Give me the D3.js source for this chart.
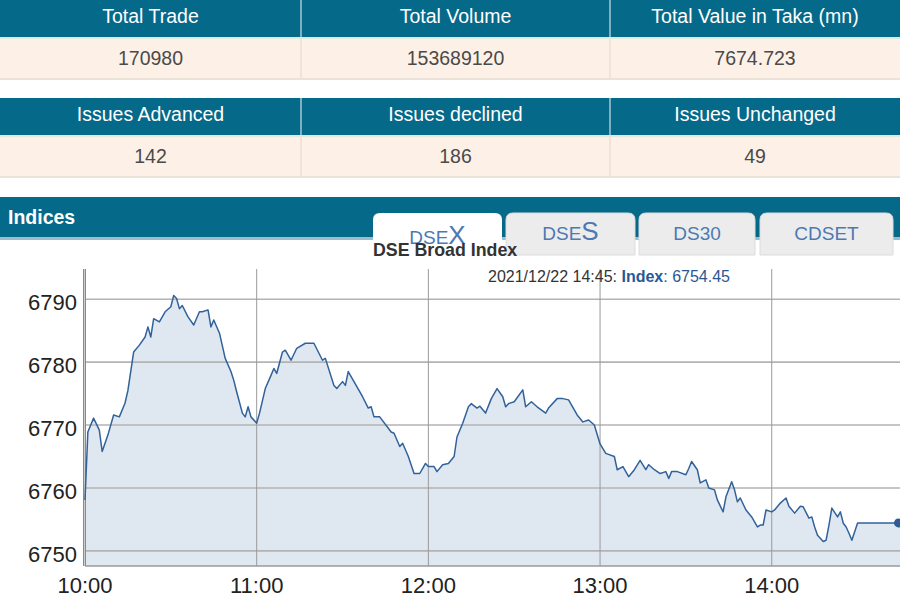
<!DOCTYPE html>
<html>
<head>
<meta charset="utf-8">
<script src="https://cdn.jsdelivr.net/npm/d3@7"></script>
<style>
  body { margin: 0; background: #fff; }
  svg { display: block; font-family: "Liberation Sans", Arial, sans-serif; }
</style>
</head>
<body>
<svg id="chart" width="900" height="600"></svg>
<script>
// summary tables
const marketHeads = ["Total Trade", "Total Volume", "Total Value in Taka (mn)"];
const marketVals = ["170980", "153689120", "7674.723"];
const issueHeads = ["Issues Advanced", "Issues declined", "Issues Unchanged"];
const issueVals = ["142", "186", "49"];

// index tabs: small part + big part
const tabNames = [["DSE", "X"], ["DSE", "S"], ["DS30", ""], ["CDSET", ""]];

// DSEX intraday
const times = [
  "10:00","10:01","10:03","10:05","10:06","10:08","10:10","10:12","10:14","10:15",
  "10:17","10:19","10:21","10:22","10:23","10:24","10:26","10:28","10:30","10:31",
  "10:32","10:33","10:34","10:36","10:38","10:40","10:41","10:43","10:44","10:45",
  "10:47","10:49","10:51","10:52","10:53","10:55","10:56","10:57","10:58","11:00",
  "11:01","11:03","11:05","11:06","11:07","11:09","11:10","11:12","11:14","11:17",
  "11:20","11:23","11:24","11:27","11:28","11:30","11:31","11:32","11:34","11:37",
  "11:39","11:40","11:41","11:43","11:47","11:48","11:50","11:51","11:53","11:55",
  "11:57","11:59","12:00","12:02","12:03","12:05","12:07","12:09","12:10","12:12",
  "12:14","12:15","12:17","12:18","12:20","12:22","12:24","12:26","12:27","12:28",
  "12:30","12:33","12:34","12:36","12:38","12:41","12:42","12:45","12:47","12:49",
  "12:50","12:52","12:54","12:56","12:58","13:00","13:02","13:05","13:06","13:08",
  "13:10","13:12","13:14","13:16","13:17","13:19","13:21","13:23","13:24","13:25",
  "13:27","13:30","13:31","13:32","13:34","13:35","13:37","13:38","13:40","13:41",
  "13:43","13:44","13:46","13:47","13:48","13:49","13:51","13:53","13:55","13:56",
  "13:57","13:58","14:00","14:01","14:03","14:05","14:06","14:08","14:10","14:11",
  "14:13","14:14","14:15","14:16","14:18","14:19","14:20","14:21","14:23","14:24",
  "14:25","14:26","14:27","14:28","14:30","14:45"
];
const values = [
  6758.1,6768.9,6771.1,6769.2,6765.8,6768.4,6771.6,6771.3,6773.5,6775.5,
  6781.6,6782.7,6784.0,6785.6,6784.0,6786.9,6786.4,6788.0,6788.8,6790.6,
  6790.1,6788.5,6789.0,6787.2,6785.9,6788.0,6788.0,6788.3,6785.6,6786.7,
  6784.6,6780.6,6778.5,6777.1,6775.3,6771.9,6771.3,6772.9,6771.3,6770.3,
  6771.9,6775.8,6777.9,6779.0,6778.2,6781.6,6781.9,6780.3,6782.2,6783.0,
  6783.0,6780.3,6780.6,6776.3,6775.8,6776.9,6776.3,6778.5,6776.9,6774.5,
  6772.7,6772.9,6771.3,6771.3,6768.9,6768.7,6766.6,6767.1,6765.0,6762.3,
  6762.3,6763.9,6763.4,6763.4,6762.6,6763.7,6763.9,6765.0,6768.1,6770.3,
  6772.9,6773.4,6772.7,6773.0,6771.9,6774.2,6775.8,6774.5,6772.9,6773.4,
  6773.7,6775.6,6772.9,6773.7,6772.9,6771.9,6772.7,6774.2,6774.2,6774.0,
  6773.2,6771.6,6770.5,6770.8,6770.0,6767.0,6765.5,6765.0,6762.9,6763.4,
  6761.8,6762.9,6764.4,6762.9,6763.7,6762.9,6762.3,6762.6,6761.5,6762.6,
  6762.6,6762.1,6763.1,6764.2,6762.9,6760.8,6761.3,6760.0,6759.7,6758.1,
  6756.2,6758.6,6761.0,6759.7,6757.8,6758.4,6756.5,6755.4,6753.8,6754.1,
  6754.1,6756.5,6756.2,6756.5,6757.6,6758.4,6757.1,6756.0,6757.1,6757.0,
  6755.2,6755.4,6753.8,6752.5,6751.5,6751.7,6754.1,6756.8,6755.4,6756.2,
  6754.4,6753.8,6752.8,6751.7,6754.45,6754.45
];

const yTicks = [6750, 6760, 6770, 6780, 6790];
const xTicks = ["10:00", "11:00", "12:00", "13:00", "14:00"];

const svg = d3.select("#chart");
const teal = "#05698a";
const peach = "#fdf1e7";
const colEdges = [0, 301, 610, 900];

function drawTable(heads, vals, y0) {
  const g = svg.append("g");
  g.append("rect").attr("x", 0).attr("y", y0).attr("width", 900).attr("height", 37).attr("fill", teal);
  g.append("rect").attr("x", 0).attr("y", y0 + 37).attr("width", 900).attr("height", 2).attr("fill", "#dfe9e2");
  g.append("rect").attr("x", 0).attr("y", y0 + 39).attr("width", 900).attr("height", 39).attr("fill", peach);
  g.append("rect").attr("x", 0).attr("y", y0 + 78).attr("width", 900).attr("height", 2).attr("fill", "#ece3d8");

  g.selectAll(".div").data(colEdges.slice(1, 3)).enter().append("line")
    .attr("x1", d => d).attr("x2", d => d)
    .attr("y1", y0).attr("y2", y0 + 37)
    .attr("stroke", "#cfe0e6").attr("stroke-width", 1.2);
  g.selectAll(".div2").data(colEdges.slice(1, 3)).enter().append("line")
    .attr("x1", d => d).attr("x2", d => d)
    .attr("y1", y0 + 39).attr("y2", y0 + 78)
    .attr("stroke", "#e6dccd").attr("stroke-width", 1.2);

  g.selectAll(".head").data(heads).enter().append("text")
    .attr("x", (d, i) => (colEdges[i] + colEdges[i + 1]) / 2)
    .attr("y", y0 + 23)
    .attr("text-anchor", "middle")
    .attr("fill", "#fff")
    .style("font-size", "19.5px")
    .text(d => d);
  g.selectAll(".val").data(vals).enter().append("text")
    .attr("x", (d, i) => (colEdges[i] + colEdges[i + 1]) / 2)
    .attr("y", y0 + 65)
    .attr("text-anchor", "middle")
    .attr("fill", "#4a4a4a")
    .style("font-size", "19.5px")
    .text(d => d);
}

drawTable(marketHeads, marketVals, 0);
drawTable(issueHeads, issueVals, 98);

// Indices bar
svg.append("rect").attr("x", 0).attr("y", 197).attr("width", 900).attr("height", 40).attr("fill", teal);
svg.append("rect").attr("x", 0).attr("y", 237).attr("width", 900).attr("height", 3).attr("fill", "#9dbccb");
svg.append("text").attr("x", 8).attr("y", 224)
  .attr("fill", "#fff").style("font-size", "19.5px").style("font-weight", "bold")
  .text("Indices");

// tabs
const tabBoxes = [[373, 502], [506, 635], [639, 755], [760, 893]];
const tabs = svg.selectAll(".tab").data(tabNames).enter().append("g");
tabs.append("path")
  .attr("d", (d, i) => {
    const [x0, x1] = tabBoxes[i];
    const bot = i === 0 ? 241 : 255, r = 7, t = 213;
    return `M${x0},${bot}V${t + r}Q${x0},${t} ${x0 + r},${t}H${x1 - r}Q${x1},${t} ${x1},${t + r}V${bot}Z`;
  })
  .attr("fill", (d, i) => i === 0 ? "#fff" : "#ececec")
  .attr("stroke", (d, i) => i === 0 ? "none" : "#dcdcdc");
const tabText = tabs.append("text")
  .attr("x", (d, i) => (tabBoxes[i][0] + tabBoxes[i][1]) / 2)
  .attr("y", (d, i) => i === 0 ? 244 : 240)
  .attr("text-anchor", "middle")
  .attr("fill", "#4c79b3");
tabText.append("tspan").style("font-size", "19px").text(d => d[0]);
tabText.append("tspan").style("font-size", "26px").text(d => d[1]);

svg.append("text").attr("x", 373).attr("y", 256)
  .attr("fill", "#333").style("font-size", "17.8px").style("font-weight", "bold")
  .text("DSE Broad Index");

// chart
const parse = d3.timeParse("%H:%M");
const data = times.map((t, i) => ({ t: parse(t), v: values[i] }));

const plotTop = 269, plotBottom = 566, plotLeft = 85;
const x = d3.scaleTime().domain([parse("10:00"), parse("14:45")]).range([plotLeft, 900.5]);
const y = d3.scaleLinear().domain([6747.6, 6794.8]).range([plotBottom, plotTop]);

const area = d3.area().x(d => x(d.t)).y0(plotBottom).y1(d => y(d.v));
const line = d3.line().x(d => x(d.t)).y(d => y(d.v));

svg.append("path").datum(data).attr("d", area).attr("fill", "#dfe7f0");

svg.append("g").selectAll("line").data(yTicks).enter().append("line")
  .attr("x1", plotLeft).attr("x2", 900)
  .attr("y1", d => y(d)).attr("y2", d => y(d))
  .attr("stroke", "#b3b3b3").attr("stroke-width", 1.6);

svg.append("g").selectAll("line").data(xTicks).enter().append("line")
  .attr("x1", d => x(parse(d))).attr("x2", d => x(parse(d)))
  .attr("y1", plotTop).attr("y2", plotBottom)
  .attr("stroke", "#9a9a9a").attr("stroke-width", 1);

// tooltip line of text
const tip = svg.append("text").attr("x", 488).attr("y", 282)
  .style("font-size", "16px").attr("fill", "#333");
tip.append("tspan").text("2021/12/22 14:45: ");
tip.append("tspan").attr("fill", "#2a5894").style("font-weight", "bold").text("Index");
tip.append("tspan").attr("fill", "#2a5894").text(": " + d3.format(".2f")(values[values.length - 1]));

// axes frame
svg.append("line").attr("x1", plotLeft - 1.5).attr("x2", plotLeft - 1.5).attr("y1", plotTop).attr("y2", plotBottom)
  .attr("stroke", "#8a8a8a").attr("stroke-width", 1);
svg.append("line").attr("x1", plotLeft + 0.5).attr("x2", plotLeft + 0.5).attr("y1", plotTop).attr("y2", plotBottom)
  .attr("stroke", "#8a8a8a").attr("stroke-width", 1);
svg.append("line").attr("x1", plotLeft).attr("x2", 900).attr("y1", plotBottom).attr("y2", plotBottom)
  .attr("stroke", "#9a9a9a").attr("stroke-width", 1.6);

svg.append("path").datum(data).attr("d", line)
  .attr("fill", "none").attr("stroke", "#31629b").attr("stroke-width", 1.5)
  .attr("stroke-linejoin", "round");

const last = data[data.length - 1];
svg.append("circle").attr("cx", x(last.t) - 2).attr("cy", y(last.v)).attr("r", 4.5).attr("fill", "#2d5c96");

// tick labels
svg.append("g").selectAll("text").data(yTicks).enter().append("text")
  .attr("x", 77).attr("y", d => y(d) + 11)
  .attr("text-anchor", "end").attr("fill", "#222")
  .style("font-size", "22px").text(d => d);

svg.append("g").selectAll("text").data(xTicks).enter().append("text")
  .attr("x", d => x(parse(d))).attr("y", 593)
  .attr("text-anchor", "middle").attr("fill", "#222")
  .style("font-size", "22px").text(d => d);
</script>
</body>
</html>
